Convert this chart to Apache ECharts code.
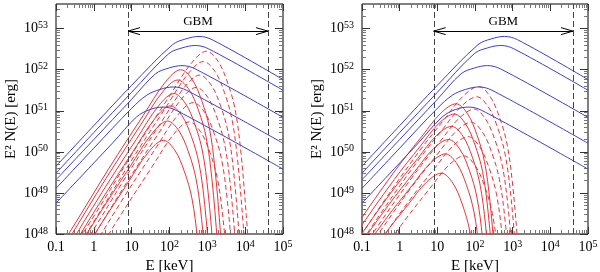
<!DOCTYPE html>
<html><head><meta charset="utf-8">
<script src="https://cdn.jsdelivr.net/npm/echarts@6/dist/echarts.min.js"></script>
<style>html,body{margin:0;padding:0;background:#fff}#c{width:600px;height:272px}</style>
</head><body><div id="c"></div>
<script>
// ---- values, as log10(E/keV), log10(E^2 N(E)/erg) ----
// blue curves (same in both panels)
const blue1 = [[-1,49.65],[0.0,50.64],[1.0,51.62],[2.08,52.61],[2.43,52.75],[2.78,52.81],[3.13,52.73],[5,51.76]];
const blue2 = [[-1,49.48],[0.0,50.47],[1.0,51.45],[1.98,52.39],[2.33,52.53],[2.68,52.59],[3.03,52.51],[5,51.50]];
const blue3 = [[-1,49.32],[0.0,50.30],[1.0,51.28],[1.63,51.90],[1.98,52.04],[2.33,52.10],[2.68,52.02],[5,50.84]];
const blue4 = [[-1,49.11],[0.0,50.09],[1.0,51.06],[1.40,51.38],[1.75,51.52],[2.10,51.58],[2.45,51.50],[5,50.21]];
const blue5 = [[-1,48.75],[0.0,49.73],[0.5,50.22],[1.13,50.85],[1.48,51.03],[1.83,51.09],[2.18,51.01],[5,49.58]];

// left panel, red solid
const leftSolid1 = [[-1.30,47.10],[-0.60,48.10],[0.40,49.60],[1.30,50.88],[1.90,51.71],[2.30,52.00],[2.60,51.76],[2.85,51.25],[3.05,50.60],[3.20,49.60],[3.35,48.00],[3.45,46.70]];
const leftSolid2 = [[-1.38,46.85],[-0.68,47.85],[0.32,49.35],[1.22,50.63],[1.82,51.46],[2.22,51.75],[2.52,51.51],[2.77,51.00],[2.97,50.35],[3.12,49.35],[3.27,47.75],[3.37,46.45]];
const leftSolid3 = [[-1.48,46.52],[-0.78,47.52],[0.22,49.02],[1.12,50.30],[1.72,51.13],[2.12,51.42],[2.42,51.18],[2.67,50.67],[2.87,50.02],[3.02,49.02],[3.17,47.42],[3.27,46.12]];
const leftSolid4 = [[-1.57,46.22],[-0.87,47.22],[0.13,48.72],[1.03,50.00],[1.63,50.83],[2.03,51.12],[2.33,50.88],[2.58,50.37],[2.78,49.72],[2.93,48.72],[3.08,47.12],[3.18,45.82]];
const leftSolid5 = [[-1.65,45.85],[-0.95,46.85],[0.05,48.35],[0.95,49.63],[1.55,50.46],[1.95,50.75],[2.25,50.51],[2.50,50.00],[2.70,49.35],[2.85,48.35],[3.00,46.75],[3.10,45.45]];
const leftSolid6 = [[-1.76,45.38],[-1.06,46.38],[-0.06,47.88],[0.84,49.16],[1.44,49.99],[1.84,50.28],[2.14,50.04],[2.39,49.53],[2.59,48.88],[2.74,47.88],[2.89,46.28],[2.99,44.98]];
// left panel, red dashed
const leftDash1 = [[-0.62,47.55],[0.08,48.55],[1.08,50.05],[1.98,51.33],[2.58,52.16],[2.98,52.45],[3.28,52.21],[3.53,51.70],[3.73,51.05],[3.88,50.05],[4.03,48.45],[4.13,47.15]];
const leftDash2 = [[-0.70,47.30],[0.00,48.30],[1.00,49.80],[1.90,51.08],[2.50,51.91],[2.90,52.20],[3.20,51.96],[3.45,51.45],[3.65,50.80],[3.80,49.80],[3.95,48.20],[4.05,46.90]];
const leftDash3 = [[-0.80,46.97],[-0.10,47.97],[0.90,49.47],[1.80,50.75],[2.40,51.58],[2.80,51.87],[3.10,51.63],[3.35,51.12],[3.55,50.47],[3.70,49.47],[3.85,47.87],[3.95,46.57]];
const leftDash4 = [[-0.89,46.67],[-0.19,47.67],[0.81,49.17],[1.71,50.45],[2.31,51.28],[2.71,51.57],[3.01,51.33],[3.26,50.82],[3.46,50.17],[3.61,49.17],[3.76,47.57],[3.86,46.27]];
const leftDash5 = [[-0.97,46.30],[-0.27,47.30],[0.73,48.80],[1.63,50.08],[2.23,50.91],[2.63,51.20],[2.93,50.96],[3.18,50.45],[3.38,49.80],[3.53,48.80],[3.68,47.20],[3.78,45.90]];
const leftDash6 = [[-1.08,45.83],[-0.38,46.83],[0.62,48.33],[1.52,49.61],[2.12,50.44],[2.52,50.73],[2.82,50.49],[3.07,49.98],[3.27,49.33],[3.42,48.33],[3.57,46.73],[3.67,45.43]];
// right panel, red solid
const rightSolid1 = [[-2.10,46.87],[-1.10,48.27],[-0.10,49.57],[0.60,50.39],[1.10,50.95],[1.50,51.17],[1.80,50.93],[2.05,50.42],[2.25,49.77],[2.40,48.77],[2.55,47.17],[2.65,45.87]];
const rightSolid2 = [[-2.15,46.62],[-1.15,48.02],[-0.15,49.32],[0.55,50.14],[1.05,50.70],[1.45,50.92],[1.75,50.68],[2.00,50.17],[2.20,49.52],[2.35,48.52],[2.50,46.92],[2.60,45.62]];
const rightSolid3 = [[-2.22,46.32],[-1.22,47.72],[-0.22,49.02],[0.48,49.84],[0.98,50.40],[1.38,50.62],[1.68,50.38],[1.93,49.87],[2.13,49.22],[2.28,48.22],[2.43,46.62],[2.53,45.32]];
const rightSolid4 = [[-2.30,46.00],[-1.30,47.40],[-0.30,48.70],[0.40,49.52],[0.90,50.08],[1.30,50.30],[1.60,50.06],[1.85,49.55],[2.05,48.90],[2.20,47.90],[2.35,46.30],[2.45,45.00]];
const rightSolid5 = [[-2.38,45.65],[-1.38,47.05],[-0.38,48.35],[0.32,49.17],[0.82,49.73],[1.22,49.95],[1.52,49.71],[1.77,49.20],[1.97,48.55],[2.12,47.55],[2.27,45.95],[2.37,44.65]];
const rightSolid6 = [[-2.49,45.18],[-1.49,46.58],[-0.49,47.88],[0.21,48.70],[0.71,49.26],[1.11,49.48],[1.41,49.24],[1.66,48.73],[1.86,48.08],[2.01,47.08],[2.16,45.48],[2.26,44.18]];
// right panel, red dashed
const rightDash1 = [[-1.50,47.29],[-0.50,48.69],[0.50,49.99],[1.20,50.81],[1.70,51.37],[2.10,51.59],[2.40,51.35],[2.65,50.84],[2.85,50.19],[3.00,49.19],[3.15,47.59],[3.25,46.29]];
const rightDash2 = [[-1.55,47.04],[-0.55,48.44],[0.45,49.74],[1.15,50.56],[1.65,51.12],[2.05,51.34],[2.35,51.10],[2.60,50.59],[2.80,49.94],[2.95,48.94],[3.10,47.34],[3.20,46.04]];
const rightDash3 = [[-1.62,46.74],[-0.62,48.14],[0.38,49.44],[1.08,50.26],[1.58,50.82],[1.98,51.04],[2.28,50.80],[2.53,50.29],[2.73,49.64],[2.88,48.64],[3.03,47.04],[3.13,45.74]];
const rightDash4 = [[-1.70,46.42],[-0.70,47.82],[0.30,49.12],[1.00,49.94],[1.50,50.50],[1.90,50.72],[2.20,50.48],[2.45,49.97],[2.65,49.32],[2.80,48.32],[2.95,46.72],[3.05,45.42]];
const rightDash5 = [[-1.78,46.07],[-0.78,47.47],[0.22,48.77],[0.92,49.59],[1.42,50.15],[1.82,50.37],[2.12,50.13],[2.37,49.62],[2.57,48.97],[2.72,47.97],[2.87,46.37],[2.97,45.07]];
const rightDash6 = [[-1.89,45.60],[-0.89,47.00],[0.11,48.30],[0.81,49.12],[1.31,49.68],[1.71,49.90],[2.01,49.66],[2.26,49.15],[2.46,48.50],[2.61,47.50],[2.76,45.90],[2.86,44.60]];

// GBM energy band (keV) and arrow level
const gbmRange = [8, 40000];
const gbmArrowLevel = 8.7e52;

// axes
const xMin = 0.1, xMax = 1e5, yMin = 1e48, yMax = Math.pow(10, 53.6);
const xTickValues = [0.1, 1, 10, 100, 1000, 1e4, 1e5];
const xTickLabels = ['0.1', '1', '10', '10^2', '10^3', '10^4', '10^5'];
const yTickValues = [1e48, 1e49, 1e50, 1e51, 1e52, 1e53];
const yTickLabels = ['10^48', '10^49', '10^50', '10^51', '10^52', '10^53'];

const xMinor = [], yMinor = [];
for (let d = -1; d < 5; d++) for (let m = 2; m <= 9; m++) xMinor.push(m * Math.pow(10, d));
for (let d = 48; d < 54; d++) for (let m = 2; m <= 9; m++) { const v = m * Math.pow(10, d); if (v < yMax) yMinor.push(v); }

const FONT = 'Liberation Serif';
const rich = {
  b: { fontSize: 14, lineHeight: 16, fontFamily: FONT, color: '#000' },
  s: { fontSize: 10, lineHeight: 10, verticalAlign: 'top', fontFamily: FONT, color: '#000' }
};
function toRich(str) {
  const i = str.indexOf('^');
  if (i < 0) return '{b|' + str + '}';
  return '{b|' + str.slice(0, i) + '}{s|' + str.slice(i + 1) + '}';
}
function fmt(values, labels) {
  return function (v) {
    let best = 0, bd = Infinity;
    values.forEach((t, k) => { const dd = Math.abs(Math.log10(v) - Math.log10(t)); if (dd < bd) { bd = dd; best = k; } });
    return bd < 1e-6 ? toRich(labels[best]) : '';
  };
}

const grids = [
  { left: 56, top: 4, width: 227, height: 230, show: true, borderColor: '#000', borderWidth: 1, backgroundColor: 'transparent', outerBoundsMode: 'none', containLabel: false },
  { left: 362, top: 4, width: 226, height: 230, show: true, borderColor: '#000', borderWidth: 1, backgroundColor: 'transparent', outerBoundsMode: 'none', containLabel: false }
];

const xAxes = [], yAxes = [];
function baseX(g, pos) {
  return { type: 'log', logBase: 10, gridIndex: g, min: xMin, max: xMax, position: pos,
    axisLine: { show: false, onZero: false }, splitLine: { show: false }, minorTick: { show: false },
    axisPointer: { show: false } };
}
function baseY(g, pos) {
  return { type: 'log', logBase: 10, gridIndex: g, min: yMin, max: yMax, position: pos,
    axisLine: { show: false, onZero: false }, splitLine: { show: false }, minorTick: { show: false },
    axisPointer: { show: false } };
}
[0, 1].forEach(g => {
  xAxes.push(Object.assign(baseX(g, 'bottom'), {
    axisTick: { inside: true, length: 7, customValues: xTickValues, lineStyle: { color: '#333', width: 1 } },
    axisLabel: { customValues: xTickValues, margin: 5, formatter: fmt(xTickValues, xTickLabels), rich: rich },
    name: 'E [keV]', nameLocation: 'middle', nameGap: 23,
    nameTextStyle: { fontFamily: FONT, fontSize: 15, color: '#000' }
  }));
  xAxes.push(Object.assign(baseX(g, 'bottom'), {
    axisTick: { inside: true, length: 4, customValues: xMinor, lineStyle: { color: '#777', width: 1 } },
    axisLabel: { show: false }
  }));
  xAxes.push(Object.assign(baseX(g, 'top'), {
    axisTick: { inside: true, length: 7, customValues: xTickValues, lineStyle: { color: '#333', width: 1 } },
    axisLabel: { show: false }
  }));
  xAxes.push(Object.assign(baseX(g, 'top'), {
    axisTick: { inside: true, length: 4, customValues: xMinor, lineStyle: { color: '#777', width: 1 } },
    axisLabel: { show: false }
  }));
  yAxes.push(Object.assign(baseY(g, 'left'), {
    axisTick: { inside: true, length: 8, customValues: yTickValues, lineStyle: { color: '#333', width: 1 } },
    axisLabel: { customValues: yTickValues, margin: 8, formatter: fmt(yTickValues, yTickLabels), rich: rich },
    name: 'E\u00b2 N(E) [erg]', nameLocation: 'middle', nameGap: 37,
    nameTextStyle: { fontFamily: FONT, fontSize: 15, color: '#000' }
  }));
  yAxes.push(Object.assign(baseY(g, 'left'), {
    axisTick: { inside: true, length: 4, customValues: yMinor, lineStyle: { color: '#777', width: 1 } },
    axisLabel: { show: false }
  }));
  yAxes.push(Object.assign(baseY(g, 'right'), {
    axisTick: { inside: true, length: 8, customValues: yTickValues, lineStyle: { color: '#333', width: 1 } },
    axisLabel: { show: false }
  }));
  yAxes.push(Object.assign(baseY(g, 'right'), {
    axisTick: { inside: true, length: 4, customValues: yMinor, lineStyle: { color: '#777', width: 1 } },
    axisLabel: { show: false }
  }));
});

const BLUE = '#3d3dd0', RED = '#e8343a';
function pts(arr) { return arr.map(p => [Math.pow(10, p[0]), Math.pow(10, p[1])]); }
const series = [];
function curve(g, arr, color, dashed, z) {
  series.push({ type: 'line', xAxisIndex: g * 4, yAxisIndex: g * 4, data: pts(arr), showSymbol: false, symbol: 'none',
    smooth: 0.35, clip: true, silent: true, color: color, z: z,
    lineStyle: { color: color, width: 1, type: dashed ? [5, 3] : 'solid' } });
}
const leftRed = [leftSolid1, leftSolid2, leftSolid3, leftSolid4, leftSolid5, leftSolid6];
const leftRedD = [leftDash1, leftDash2, leftDash3, leftDash4, leftDash5, leftDash6];
const rightRed = [rightSolid1, rightSolid2, rightSolid3, rightSolid4, rightSolid5, rightSolid6];
const rightRedD = [rightDash1, rightDash2, rightDash3, rightDash4, rightDash5, rightDash6];
const blues = [blue1, blue2, blue3, blue4, blue5];

leftRedD.forEach(a => curve(0, a, RED, true, 2));
leftRed.forEach(a => curve(0, a, RED, false, 2));
rightRedD.forEach(a => curve(1, a, RED, true, 2));
rightRed.forEach(a => curve(1, a, RED, false, 2));
[0, 1].forEach(g => blues.forEach(a => curve(g, a, BLUE, false, 6)));

// GBM band: vertical dashed limits, double arrow and label, all placed through the axes
[0, 1].forEach(g => {
  series.push({
    type: 'custom', xAxisIndex: g * 4, yAxisIndex: g * 4, silent: true, clip: false, z: 4,
    data: [[gbmRange[0], gbmArrowLevel, gbmRange[1]]],
    renderItem: function (params, api) {
      const a = api.coord([api.value(0), api.value(1)]);
      const b = api.coord([api.value(2), api.value(1)]);
      const aBot = api.coord([api.value(0), yMin]), aTop = api.coord([api.value(0), yMax]);
      const bBot = api.coord([api.value(2), yMin]), bTop = api.coord([api.value(2), yMax]);
      const L = 12, H = 3.5;
      const st = { stroke: '#000', lineWidth: 1, fill: null };
      const dash = { stroke: '#444', lineWidth: 1, fill: null, lineDash: [6, 3] };
      return { type: 'group', children: [
        { type: 'line', shape: { x1: Math.round(aBot[0]) + 0.5, y1: aBot[1], x2: Math.round(aTop[0]) + 0.5, y2: aTop[1] }, style: dash },
        { type: 'line', shape: { x1: Math.round(bBot[0]) + 0.5, y1: bBot[1], x2: Math.round(bTop[0]) + 0.5, y2: bTop[1] }, style: dash },
        { type: 'line', shape: { x1: a[0], y1: Math.round(a[1]) + 0.5, x2: b[0], y2: Math.round(b[1]) + 0.5 }, style: st },
        { type: 'polyline', shape: { points: [[a[0] + L, a[1] - H], [a[0], a[1]], [a[0] + L, a[1] + H]] }, style: st },
        { type: 'polyline', shape: { points: [[b[0] - L, b[1] - H], [b[0], b[1]], [b[0] - L, b[1] + H]] }, style: st },
        { type: 'text', style: { text: 'GBM', x: (a[0] + b[0]) / 2, y: a[1] - 3, align: 'center', verticalAlign: 'bottom',
          fontFamily: FONT, fontSize: 13, fill: '#000' } }
      ] };
    }
  });
});

const chart = echarts.init(document.getElementById('c'), null, { renderer: 'canvas' });
chart.setOption({
  animation: false,
  backgroundColor: '#fff',
  tooltip: { show: false },
  grid: grids,
  xAxis: xAxes,
  yAxis: yAxes,
  series: series
});
</script></body></html>
